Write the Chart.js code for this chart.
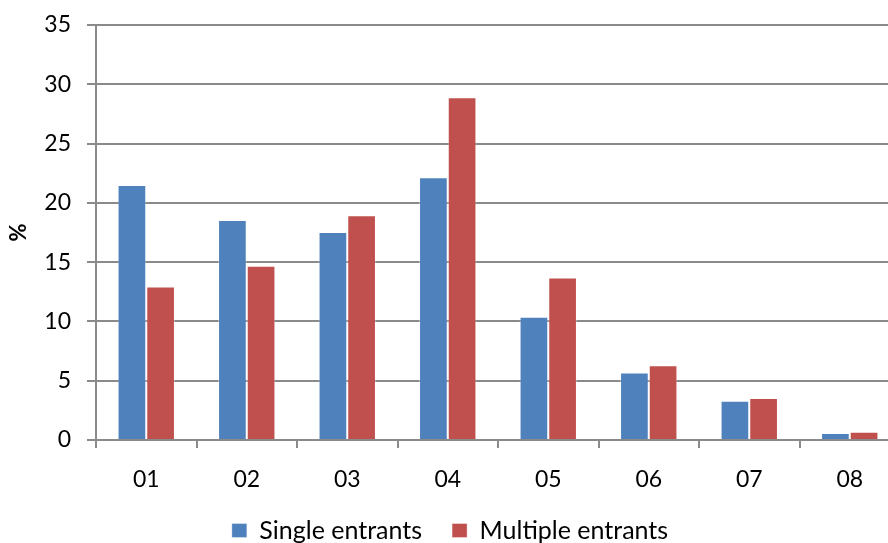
<!DOCTYPE html>
<html>
<head>
<meta charset="utf-8">
<script src="https://cdn.jsdelivr.net/npm/chart.js@4.4.1/dist/chart.umd.min.js"></script>
<style>
  html, body { margin: 0; padding: 0; background: #ffffff; overflow: hidden; }
  #wrap { width: 888px; height: 543px; overflow: hidden; position: relative; }
  #chart { position: absolute; left: 0; top: 0; }
</style>
</head>
<body>
<div id="wrap"><canvas id="chart" width="904" height="553"></canvas></div>
<script>
// Share of entrants by group (%)
const categories = ['01', '02', '03', '04', '05', '06', '07', '08'];
const singleEntrants = [21.5, 18.55, 17.55, 22.15, 10.4, 5.7, 3.3, 0.6];
const multipleEntrants = [12.95, 14.7, 18.95, 28.9, 13.7, 6.3, 3.55, 0.7];
const seriesNames = ['Single entrants', 'Multiple entrants'];
const yMin = 0, yMax = 35, yStep = 5;
const yTitle = '%';

const FONT = 'Lato, "Open Sans", sans-serif';
const GRID = '#8a8a8a';

new Chart(document.getElementById('chart'), {
  type: 'bar',
  data: {
    labels: categories,
    datasets: [
      { label: seriesNames[0], data: singleEntrants, backgroundColor: '#4f81bd',
        borderColor: 'rgba(255,255,255,0.35)', borderWidth: 1 },
      { label: seriesNames[1], data: multipleEntrants, backgroundColor: '#c0504d',
        borderColor: 'rgba(255,255,255,0.35)', borderWidth: 1 }
    ]
  },
  options: {
    responsive: false,
    animation: false,
    devicePixelRatio: 1,
    layout: { padding: { top: 25, right: 4, bottom: 0, left: 0 } },
    datasets: { bar: { categoryPercentage: 0.571, barPercentage: 1.0 } },
    plugins: {
      tooltip: { enabled: false },
      legend: {
        position: 'bottom',
        labels: {
          font: { family: FONT, size: 25 },
          color: '#000000',
          boxWidth: 15,
          boxHeight: 14,
          padding: 30
        }
      }
    },
    scales: {
      x: {
        grid: { display: true, drawOnChartArea: false, drawTicks: true, tickLength: 8,
                color: GRID, lineWidth: 2, offset: true },
        border: { display: true, color: GRID, width: 2 },
        ticks: { font: { family: FONT, size: 23 }, color: '#000000', padding: 18, maxRotation: 0 },
        afterFit(scale) { scale.height = 48; }
      },
      y: {
        min: yMin, max: yMax,
        ticks: { stepSize: yStep, font: { family: FONT, size: 23, lineHeight: 0.75 },
                 color: '#000000', padding: 16 },
        grid: { color: GRID, lineWidth: 2, tickLength: 9, drawTicks: true },
        border: { display: true, color: GRID, width: 2 },
        title: { display: true, text: yTitle, font: { family: FONT, size: 22, weight: 'bold' },
                 color: '#000000', padding: { top: 6, bottom: 0 } },
        afterFit(scale) { scale.width = 96; }
      }
    }
  }
});
</script>
</body>
</html>
